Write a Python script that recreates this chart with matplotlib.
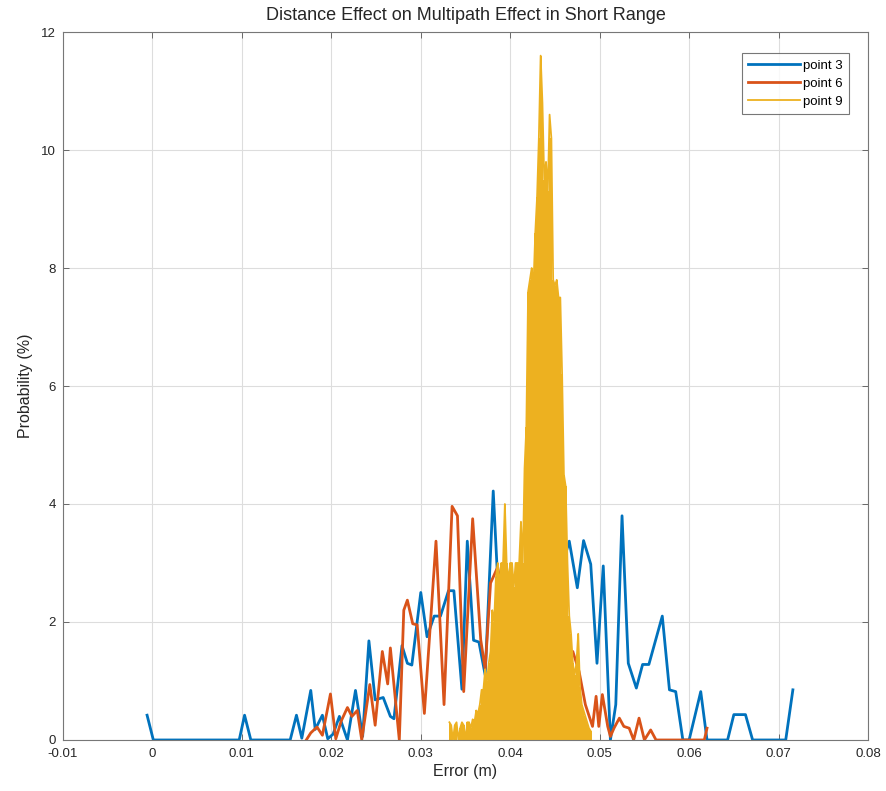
import matplotlib
matplotlib.use("Agg")
import matplotlib.pyplot as plt
import numpy as np

plt.rcParams['font.family'] = ['Liberation Sans', 'DejaVu Sans']

# point 3 (blue) - vertices
BLUE_X = [-0.0006, 0.0001, 0.0097, 0.0103, 0.0110, 0.0154, 0.0161, 0.0167, 0.0177, 0.0182,
          0.0190, 0.0196, 0.0202, 0.0209, 0.0218, 0.0227, 0.0235, 0.0242, 0.0249, 0.0258,
          0.0266, 0.0270, 0.0279, 0.0285, 0.0290, 0.0300, 0.0307, 0.0315, 0.0322, 0.0331,
          0.0337, 0.0346, 0.0352, 0.0359, 0.0365, 0.0372, 0.0381, 0.0386, 0.0392, 0.0399,
          0.0405, 0.0412, 0.0419, 0.0426, 0.0433, 0.0439, 0.0446, 0.0453, 0.0459, 0.0466,
          0.0475, 0.0482, 0.0490, 0.0497, 0.0504, 0.0512, 0.0518, 0.0525, 0.0532, 0.0541,
          0.0548, 0.0555, 0.0570, 0.0578, 0.0585, 0.0593, 0.0600, 0.0613, 0.0620, 0.0643,
          0.0650, 0.0663, 0.0671, 0.0708, 0.0716]
BLUE_Y = [0.42, 0.0, 0.0, 0.42, 0.0, 0.0, 0.42, 0.03, 0.84, 0.18,
          0.42, 0.02, 0.10, 0.40, 0.0, 0.84, 0.06, 1.68, 0.68, 0.72,
          0.40, 0.36, 1.60, 1.30, 1.27, 2.50, 1.75, 2.10, 2.10, 2.53,
          2.53, 0.86, 3.37, 1.69, 1.66, 1.10, 4.22, 2.70, 1.70, 2.50,
          2.00, 2.60, 2.40, 3.20, 5.10, 3.40, 4.00, 2.60, 3.00, 3.37,
          2.58, 3.38, 2.98, 1.30, 2.95, 0.0, 0.60, 3.80, 1.30, 0.88,
          1.28, 1.28, 2.10, 0.85, 0.82, 0.0, 0.0, 0.82, 0.0, 0.0,
          0.43, 0.43, 0.0, 0.0, 0.85]

# point 6 (orange)
ORANGE_X = [0.0172, 0.0177, 0.0184, 0.0190, 0.0199, 0.0205, 0.0211, 0.0218, 0.0223, 0.0229,
            0.0234, 0.0243, 0.0249, 0.0257, 0.0263, 0.0266, 0.0276, 0.0281, 0.0285, 0.0291,
            0.0296, 0.0304, 0.0317, 0.0326, 0.0335, 0.0341, 0.0348, 0.0358, 0.0367, 0.0372,
            0.0378, 0.0386, 0.0393, 0.0400, 0.0407, 0.0414, 0.0421, 0.0428, 0.0435, 0.0442,
            0.0449, 0.0456, 0.0463, 0.0470, 0.0477, 0.0484, 0.0492, 0.0496, 0.0499, 0.0503,
            0.0509, 0.0512, 0.0516, 0.0522, 0.0527, 0.0533, 0.0538, 0.0544, 0.0550, 0.0557,
            0.0563, 0.0617, 0.0620]
ORANGE_Y = [0.0, 0.12, 0.22, 0.08, 0.78, 0.02, 0.32, 0.55, 0.40, 0.50,
            0.0, 0.94, 0.25, 1.50, 0.95, 1.56, 0.0, 2.20, 2.37, 1.97,
            1.95, 0.45, 3.37, 0.60, 3.96, 3.80, 0.82, 3.75, 1.70, 1.20,
            2.66, 2.93, 2.30, 2.00, 1.80, 1.90, 1.40, 2.00, 2.40, 1.80,
            1.60, 1.40, 1.20, 1.50, 1.16, 0.60, 0.23, 0.74, 0.23, 0.77,
            0.23, 0.06, 0.20, 0.37, 0.23, 0.20, 0.0, 0.37, 0.0, 0.17,
            0.0, 0.0, 0.20]

# point 9 (yellow) - very fine bins, 0.0002 m apart from 0.0332 m
YELLOW_START = 0.0332
YELLOW_STEP = 0.0002
YELLOW_Y = [0.30, 0.25, 0.0, 0.25, 0.30, 0.0, 0.20, 0.30, 0.25, 0.0,
            0.30, 0.30, 0.20, 0.35, 0.30, 0.50, 0.45, 0.60, 0.85, 0.85,
            1.20, 1.00, 1.30, 1.50, 2.20, 2.00, 2.75, 3.00, 2.60, 3.00,
            3.00, 4.00, 3.00, 2.70, 3.00, 3.00, 2.60, 3.00, 3.00, 3.00,
            3.70, 3.00, 4.60, 5.30, 7.60, 7.80, 8.00, 7.70, 8.60, 9.20,
            10.2, 11.6, 10.8, 9.50, 9.80, 9.30, 10.6, 10.2, 7.80, 7.70,
            7.80, 7.50, 7.50, 6.20, 4.50, 4.30, 3.00, 2.10, 1.80, 1.30,
            1.10, 1.30, 1.80, 0.90, 0.60, 0.50, 0.40, 0.30, 0.20, 0.15]

XTICKS = [-0.01, 0, 0.01, 0.02, 0.03, 0.04, 0.05, 0.06, 0.07, 0.08]
XTICK_LABELS = ['-0.01', '0', '0.01', '0.02', '0.03', '0.04', '0.05', '0.06', '0.07', '0.08']
YTICKS = [0, 2, 4, 6, 8, 10, 12]

C_BLUE = '#0072BD'
C_ORANGE = '#D95319'
C_YELLOW = '#EDB120'
C_TEXT = '#262626'

fig = plt.figure(figsize=(8.86, 7.91), dpi=100)
ax = fig.add_axes([0.0711, 0.0645, 0.9086, 0.895])

ax.plot(BLUE_X, BLUE_Y, color=C_BLUE, lw=2.0, label='point 3', zorder=2)
ax.plot(ORANGE_X, ORANGE_Y, color=C_ORANGE, lw=2.0, label='point 6', zorder=2.1)

# yellow drawn on top, like the last series in the original
yx = YELLOW_START + YELLOW_STEP * np.arange(len(YELLOW_Y))
ax.bar(yx, YELLOW_Y, width=YELLOW_STEP, color=C_YELLOW, edgecolor='none',
       linewidth=0, zorder=3)
ax.plot(yx, YELLOW_Y, color=C_YELLOW, lw=1.3, label='point 9', zorder=3.1)

ax.set_xlim(-0.01, 0.08)
ax.set_ylim(0, 12)
ax.set_xticks(XTICKS)
ax.set_xticklabels(XTICK_LABELS)
ax.set_yticks(YTICKS)
ax.grid(True, color='#dddddd', lw=0.8)
ax.set_axisbelow(True)
ax.tick_params(direction='in', top=True, right=True, length=4, width=0.6,
               colors='#555555', labelcolor=C_TEXT, labelsize=9.5)
ax.tick_params(axis='x', pad=6)
ax.tick_params(axis='y', pad=5)
for sp in ax.spines.values():
    sp.set_color('#777777')
    sp.set_linewidth(0.8)
    sp.set_zorder(4)

ax.set_title('Distance Effect on Multipath Effect in Short Range', fontsize=13,
             color=C_TEXT, pad=8.5)
ax.set_xlabel('Error (m)', fontsize=11.5, color=C_TEXT, labelpad=3)
ax.set_ylabel('Probability (%)', fontsize=11.5, color=C_TEXT, labelpad=6)

leg = ax.legend(loc='upper right', fontsize=9.5, handlelength=3.9, handletextpad=0.25,
                borderpad=0.45, labelspacing=0.45, fancybox=False,
                bbox_to_anchor=(0.984, 0.979))
leg.get_frame().set_edgecolor('#555555')
leg.get_frame().set_linewidth(0.8)
leg.set_zorder(5)

fig.savefig('out.png', dpi=100)
